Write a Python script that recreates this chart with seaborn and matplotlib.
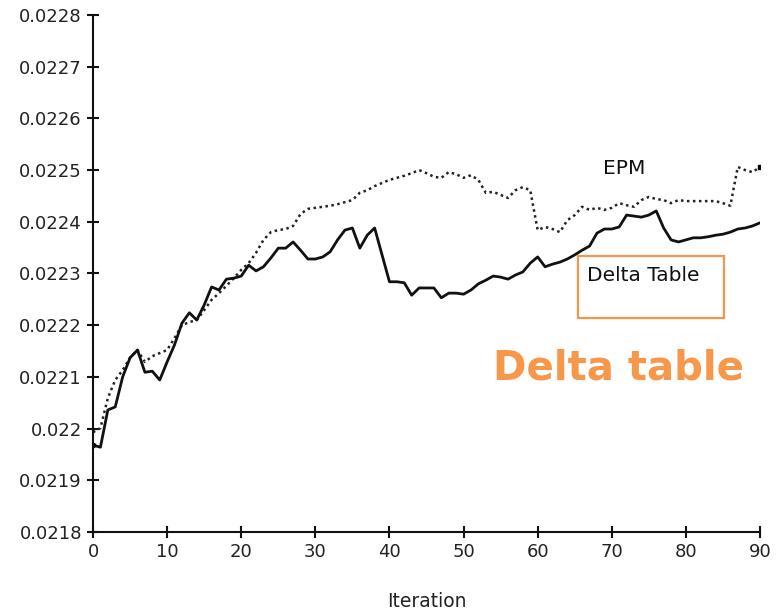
import numpy as np
import pandas as pd
import matplotlib
matplotlib.use("Agg")
import matplotlib.pyplot as plt
import seaborn as sns
from matplotlib.patches import Rectangle

# ---------------------------------------------------
# DATA
# ---------------------------------------------------

iterations = list(range(0, 91))

delta_table = [
    0.021968, 0.021964, 0.022036, 0.022042, 0.022100, 0.022137, 0.022152, 0.022109, 0.022111, 0.022094,
    0.022129, 0.022162, 0.022204, 0.022224, 0.022210, 0.022239, 0.022274, 0.022268, 0.022289, 0.022291,
    0.022295, 0.022316, 0.022305, 0.022313, 0.022330, 0.022349, 0.022349, 0.022361, 0.022345, 0.022328,
    0.022328, 0.022332, 0.022342, 0.022365, 0.022384, 0.022388, 0.022349, 0.022374, 0.022388, 0.022336,
    0.022284, 0.022284, 0.022282, 0.022258, 0.022272, 0.022272, 0.022272, 0.022253, 0.022262, 0.022262,
    0.022260, 0.022268, 0.022280, 0.022287, 0.022295, 0.022293, 0.022289, 0.022297, 0.022303, 0.022320,
    0.022332, 0.022313, 0.022318, 0.022322, 0.022328, 0.022336, 0.022345, 0.022353, 0.022378, 0.022386,
    0.022386, 0.022390, 0.022413, 0.022411, 0.022409, 0.022413, 0.022421, 0.022388, 0.022365, 0.022361,
    0.022365, 0.022369, 0.022369, 0.022371, 0.022374, 0.022376, 0.022380, 0.022386, 0.022388, 0.022392,
    0.022398,
]

epm = [
    0.021993, 0.022001, 0.022059, 0.022094, 0.022113, 0.022137, 0.022152, 0.022129, 0.022140, 0.022146,
    0.022152, 0.022175, 0.022200, 0.022206, 0.022210, 0.022229, 0.022249, 0.022262, 0.022276, 0.022291,
    0.022307, 0.022320, 0.022340, 0.022365, 0.022380, 0.022384, 0.022386, 0.022392, 0.022415, 0.022425,
    0.022427, 0.022429, 0.022431, 0.022434, 0.022438, 0.022442, 0.022456, 0.022461, 0.022469, 0.022475,
    0.022481, 0.022485, 0.022489, 0.022494, 0.022500, 0.022494, 0.022487, 0.022485, 0.022496, 0.022492,
    0.022485, 0.022490, 0.022481, 0.022456, 0.022458, 0.022452, 0.022446, 0.022461, 0.022467, 0.022461,
    0.022384, 0.022390, 0.022386, 0.022380, 0.022403, 0.022413, 0.022429, 0.022423, 0.022427, 0.022423,
    0.022427, 0.022436, 0.022432, 0.022429, 0.022442, 0.022448, 0.022444, 0.022442, 0.022436, 0.022442,
    0.022440, 0.022440, 0.022440, 0.022440, 0.022440, 0.022436, 0.022431, 0.022506, 0.022500, 0.022496,
    0.022506,
]

y_ticks = [0.0218, 0.0219, 0.022, 0.0221, 0.0222, 0.0223, 0.0224, 0.0225, 0.0226, 0.0227, 0.0228]
y_tick_labels = ["0.0218", "0.0219", "0.022", "0.0221", "0.0222", "0.0223",
                 "0.0224", "0.0225", "0.0226", "0.0227", "0.0228"]
x_ticks = [0, 10, 20, 30, 40, 50, 60, 70, 80, 90]

df = pd.DataFrame({
    "Iteration": iterations,
    "Delta Table": delta_table,
    "EPM": epm,
})

# ---------------------------------------------------
# PLOT
# ---------------------------------------------------

sns.set_style("ticks")
plt.rcParams["font.family"] = ["DejaVu Sans"]

fig = plt.figure(figsize=(7.79, 6.11), dpi=100)
ax = fig.add_axes([0.1194, 0.1293, 0.8562, 0.8462])

sns.lineplot(data=df, x="Iteration", y="EPM", ax=ax,
             color="#222222", linewidth=1.8, linestyle=(0, (1, 1.4)))
sns.lineplot(data=df, x="Iteration", y="Delta Table", ax=ax,
             color="#111111", linewidth=2.0)

# end markers
ax.plot(iterations[-1], epm[-1], marker="s", markersize=3, color="black")
ax.plot(iterations[0], delta_table[0], marker="o", markersize=3, color="black")

ax.set_xlim(0, 90)
ax.set_ylim(0.0218, 0.0228)
ax.set_xticks(x_ticks)
ax.set_yticks(y_ticks)
ax.set_yticklabels(y_tick_labels)
ax.set_xlabel("Iteration", fontsize=13.5, color="#222222", labelpad=22)
ax.set_ylabel("")

sns.despine(ax=ax)
for side in ["left", "bottom"]:
    ax.spines[side].set_linewidth(1.5)
    ax.spines[side].set_color("#111111")

ax.tick_params(direction="inout", length=8, width=1.5, colors="#111111",
               labelsize=13, labelcolor="#222222", pad=4)

# line labels
ax.text(71.7, 0.022504, "EPM", fontsize=14.5, ha="center", va="center", color="#111111")
ax.add_patch(Rectangle((65.45, 0.022214), 19.7, 0.000120, fill=False,
                       edgecolor="#F5964A", linewidth=1.6, clip_on=False))
ax.text(66.7, 0.022297, "Delta Table", fontsize=14.5, ha="left", va="center", color="#111111")

fig.text(0.7946, 0.3977, "Delta table", fontsize=29, fontweight="bold",
         color="#F7974A", ha="center", va="center")

fig.savefig("out.png", dpi=100)
